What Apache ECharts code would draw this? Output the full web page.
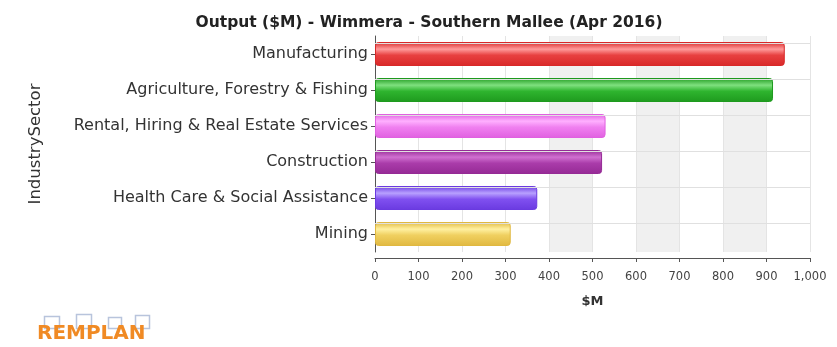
<!DOCTYPE html>
<html><head><meta charset="utf-8">
<script src="https://cdn.jsdelivr.net/npm/echarts@6/dist/echarts.min.js"></script>
<style>html,body{margin:0;padding:0;background:#fff}#c{width:837px;height:347px}</style>
</head><body><div id="c"></div>
<script>
const categories = ['Manufacturing','Agriculture, Forestry & Fishing','Rental, Hiring & Real Estate Services','Construction','Health Care & Social Assistance','Mining'];
const values = [942, 915, 530, 522, 373, 312];
const xTicks = [0,100,200,300,400,500,600,700,800,900,1000];
const barColors = [
  ['#d82828','#ff9a9a','#e84040'],
  ['#1e9a1e','#7fe07f','#2fb52f'],
  ['#e060e0','#ffb0ff','#f080f0'],
  ['#952a95','#d070d0','#aa3caa'],
  ['#6a3ae0','#b8a0ff','#8050f0'],
  ['#e0b840','#fff0a0','#f0d060']
];
const chart = echarts.init(document.getElementById('c'));
const catRev = categories.slice().reverse();
const valRev = values.slice().reverse();
const colRev = barColors.slice().reverse();
const clear = 'rgba(0,0,0,0)';
chart.setOption({
  animation:false,
  title:{text:'Output ($M) - Wimmera - Southern Mallee (Apr 2016)',left:424,textAlign:'center',top:10,
    textStyle:{fontFamily:'DejaVu Sans',fontSize:15.5,fontWeight:'bold',color:'#222'}},
  grid:{left:375,right:27,top:36,bottom:95},
  xAxis:{type:'value',min:0,max:1000,interval:100,offset:6,
    name:'$M',nameLocation:'middle',nameGap:37,
    nameTextStyle:{fontFamily:'DejaVu Sans',fontSize:13,fontWeight:'bold',color:'#333'},
    axisLine:{show:true,lineStyle:{color:'#555'}},
    axisTick:{show:true,length:4,lineStyle:{color:'#555'}},
    axisLabel:{fontFamily:'DejaVu Sans',fontSize:11.5,color:'#444',margin:13,
      formatter:v=>v===1000?'1,000':String(v)},
    splitLine:{show:true,lineStyle:{color:'#e4e4e4'}},
    splitArea:{show:true,areaStyle:{color:[clear,clear,clear,clear,'#f0f0f0',clear,'#f0f0f0',clear,'#f0f0f0',clear]}}
  },
  yAxis:{type:'category',data:catRev,
    name:'IndustrySector',nameLocation:'middle',nameGap:331,nameRotate:90,
    nameTextStyle:{fontFamily:'DejaVu Sans',fontSize:16.5,color:'#333'},
    axisLine:{show:true,lineStyle:{color:'#555'}},
    axisTick:{show:true,alignWithLabel:true,length:4,lineStyle:{color:'#555'}},
    axisLabel:{fontFamily:'DejaVu Sans',fontSize:16,color:'#333',margin:7},
    splitLine:{show:false}
  },
  series:[
    {type:'bar',data:[0,0,0,0,0,0],barGap:'-100%',silent:true,
      markLine:{silent:true,symbol:'none',label:{show:false},lineStyle:{color:'#e0e0e0',type:'solid',width:1},
        data:catRev.map(c=>({yAxis:c}))}},
    {type:'bar',barWidth:24,barGap:'-100%',
      data:valRev.map((v,i)=>({value:v,itemStyle:{
        color:new echarts.graphic.LinearGradient(0,0,0,1,[
          {offset:0,color:colRev[i][0]},{offset:0.3,color:colRev[i][1]},{offset:0.55,color:colRev[i][2]},{offset:1,color:colRev[i][0]}]),
        borderColor:colRev[i][0],borderWidth:1,borderRadius:3}})),
    }
  ],
  graphic:[
    {type:'rect',left:42,top:314,shape:{width:15,height:12},style:{fill:'none',stroke:'#b8c4dc',lineWidth:1.5}},
    {type:'rect',left:74,top:312,shape:{width:15,height:14},style:{fill:'none',stroke:'#b8c4dc',lineWidth:1.5}},
    {type:'rect',left:106,top:315,shape:{width:13,height:11},style:{fill:'none',stroke:'#b8c4dc',lineWidth:1.5}},
    {type:'rect',left:133,top:313,shape:{width:14,height:13},style:{fill:'none',stroke:'#b8c4dc',lineWidth:1.5}},
    {type:'text',left:37,top:324,style:{text:'REMPLAN',fontFamily:'DejaVu Sans',fontSize:20,fontWeight:'bold',fill:'#f08a24'}}
  ]
});
</script></body></html>
